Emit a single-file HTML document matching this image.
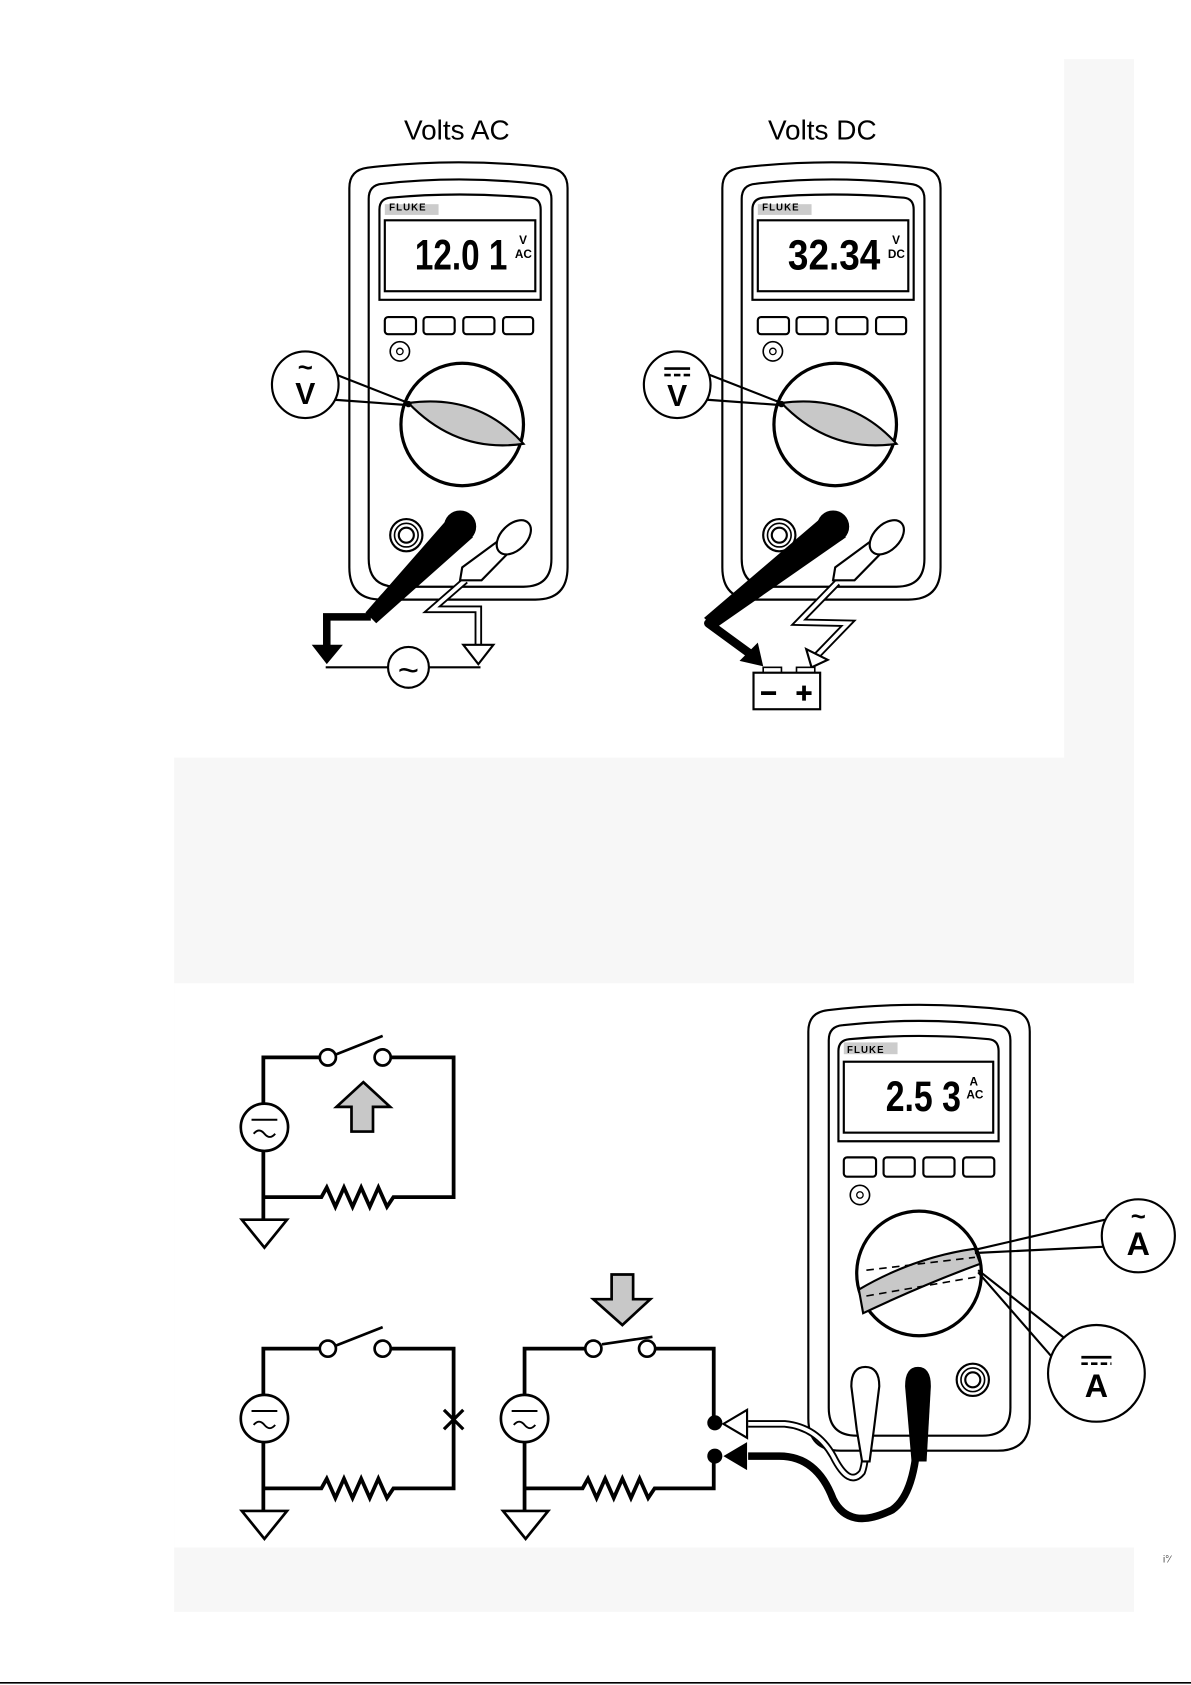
<!DOCTYPE html>
<html><head><meta charset="utf-8"><style>
html,body{margin:0;padding:0;background:#fff;}
svg{display:block;}
text{font-family:"Liberation Sans",sans-serif;}
.dig{font-family:"Liberation Sans Narrow","Liberation Sans",sans-serif;font-weight:bold;}
</style></head><body>
<svg width="1191" height="1685" viewBox="0 0 1108 1568" preserveAspectRatio="none" xmlns="http://www.w3.org/2000/svg">
<rect x="0" y="0" width="1108" height="1568" fill="#fff"/>
<rect x="162" y="55" width="893" height="1445" fill="#f7f7f7"/>
<rect x="0" y="0" width="990" height="705" fill="#fff"/>
<rect x="162" y="915" width="893" height="525" fill="#fff"/>
<line x1="0" y1="1566" x2="1108" y2="1566" stroke="#000" stroke-width="1.5"/>
<text x="1082" y="1454" font-size="9" fill="#444">i°⁄</text>

<defs>
<g id="meter">
 <path d="M325,175 Q325,158 342,156 Q427,146 511,156 Q528,158 528,175 L528,528 Q528,558 498,558 L355,558 Q325,558 325,528 Z" fill="#fff" stroke="#000" stroke-width="2"/>
 <path d="M343,185 Q343,172 356,171 Q427,163 499,171 Q513,172 513,185 L513,520 Q513,546 487,546 L369,546 Q343,546 343,520 Z" fill="none" stroke="#000" stroke-width="2"/>
 <path d="M353,195 Q353,185 363,184 Q427,178 494,184 Q503,185 503,195 L503,279 L353,279 Z" fill="none" stroke="#000" stroke-width="2"/>
 <rect x="358" y="205" width="140" height="66" fill="#fff" stroke="#000" stroke-width="2"/>
 <rect x="358" y="190" width="50" height="10" fill="#ccc"/>
 <rect x="358" y="295" width="29" height="16" rx="3" fill="none" stroke="#000" stroke-width="2"/>
 <rect x="394" y="295" width="29" height="16" rx="3" fill="none" stroke="#000" stroke-width="2"/>
 <rect x="431" y="295" width="29" height="16" rx="3" fill="none" stroke="#000" stroke-width="2"/>
 <rect x="468" y="295" width="28" height="16" rx="3" fill="none" stroke="#000" stroke-width="2"/>
 <circle cx="372" cy="327" r="9" fill="none" stroke="#000" stroke-width="1.5"/>
 <circle cx="372" cy="327" r="3" fill="none" stroke="#000" stroke-width="1.2"/>
 <circle cx="378" cy="498" r="15" fill="#fff" stroke="#000" stroke-width="2"/>
 <circle cx="378" cy="498" r="11" fill="none" stroke="#000" stroke-width="1.5"/>
 <circle cx="378" cy="498" r="7" fill="none" stroke="#000" stroke-width="2"/>
</g>
</defs>

<text x="425" y="130" font-size="26" text-anchor="middle">Volts AC</text>
<text x="765" y="130" font-size="26" text-anchor="middle">Volts DC</text>

<!-- Meter 1 -->
<use href="#meter"/>
<text x="362" y="196" font-size="9" font-weight="bold" letter-spacing="1">FLUKE</text>
<text class="dig" x="386" y="251" font-size="40" textLength="86" lengthAdjust="spacingAndGlyphs">12.0 1</text>
<text x="483" y="227" font-size="11" font-weight="bold">V</text>
<text x="479" y="240" font-size="11" font-weight="bold">AC</text>
<circle cx="430" cy="395" r="57" fill="#fff" stroke="#000" stroke-width="3"/>
<path d="M380,375 Q445,366 487,413 Q425,422 380,375 Z" fill="#c8c8c8" stroke="#000" stroke-width="2"/>
<path d="M380,375 L306,346 M380,377 L311,372" stroke="#000" stroke-width="2" fill="none"/>
<circle cx="284" cy="358" r="31" fill="#fff" stroke="#000" stroke-width="2"/>
<circle cx="380" cy="376" r="3" fill="#000"/>
<text x="284" y="376" font-size="28" font-weight="bold" text-anchor="middle">V</text>
<text x="284" y="350" font-size="24" font-weight="bold" text-anchor="middle">~</text>
<!-- probes meter1 -->
<polygon points="418,481 440,500 350,580 340,570" fill="#000"/>
<circle cx="428" cy="490" r="15" fill="#000"/>
<polyline points="345,574 304,574 304,602" fill="none" stroke="#000" stroke-width="7"/>
<polygon points="290,600 319,600 304,618" fill="#000"/>
<path d="M433,540 L402,567 L445,567 L445,602" fill="none" stroke="#000" stroke-width="7"/>
<path d="M433,540 L402,567 L445,567 L445,602" fill="none" stroke="#fff" stroke-width="3.5"/>
<path d="M487,486 L493,494 L448,540 L428,540 L430,528 Z" fill="#fff" stroke="#000" stroke-width="2"/>
<ellipse cx="478" cy="500" rx="12" ry="19" transform="rotate(45 478 500)" fill="#fff" stroke="#000" stroke-width="2"/>
<polygon points="431,600 459,600 445,618" fill="#fff" stroke="#000" stroke-width="2"/>
<line x1="303" y1="621" x2="447" y2="621" stroke="#000" stroke-width="2"/>
<circle cx="380" cy="621" r="19" fill="#fff" stroke="#000" stroke-width="2"/>
<text x="380" y="635" font-size="34" text-anchor="middle">~</text>

<!-- Meter 2 -->
<use href="#meter" transform="translate(347,0)"/>
<text x="709" y="196" font-size="9" font-weight="bold" letter-spacing="1">FLUKE</text>
<text class="dig" x="733" y="251" font-size="40" textLength="86" lengthAdjust="spacingAndGlyphs">32.34</text>
<text x="830" y="227" font-size="11" font-weight="bold">V</text>
<text x="826" y="240" font-size="11" font-weight="bold">DC</text>
<circle cx="777" cy="395" r="57" fill="#fff" stroke="#000" stroke-width="3"/>
<path d="M727,375 Q792,366 834,413 Q772,422 727,375 Z" fill="#c8c8c8" stroke="#000" stroke-width="2"/>
<path d="M727,375 L653,346 M727,377 L658,372" stroke="#000" stroke-width="2" fill="none"/>
<circle cx="630" cy="358" r="31" fill="#fff" stroke="#000" stroke-width="2"/>
<circle cx="727" cy="376" r="3" fill="#000"/>
<text x="630" y="378" font-size="28" font-weight="bold" text-anchor="middle">V</text>
<line x1="618" y1="343" x2="642" y2="343" stroke="#000" stroke-width="2.5"/>
<line x1="618" y1="349" x2="642" y2="349" stroke="#000" stroke-width="2.5" stroke-dasharray="6,3"/>
<polygon points="765,481 787,500 665,585 655,575" fill="#000"/>
<circle cx="775" cy="490" r="15" fill="#000"/>
<path d="M659,580 L700,610" stroke="#000" stroke-width="8" fill="none" stroke-linecap="round"/>
<polygon points="688,615 710,620 705,598" fill="#000"/>
<path d="M779,542 L743,579 L789,580 L760,610" fill="none" stroke="#000" stroke-width="7"/>
<path d="M779,542 L743,579 L789,580 L760,610" fill="none" stroke="#fff" stroke-width="3.5"/>
<path d="M834,486 L840,494 L795,540 L775,540 L777,528 Z" fill="#fff" stroke="#000" stroke-width="2"/>
<ellipse cx="825" cy="500" rx="12" ry="19" transform="rotate(45 825 500)" fill="#fff" stroke="#000" stroke-width="2"/>
<polygon points="750,604 770,614 755,621" fill="#fff" stroke="#000" stroke-width="2"/>
<rect x="710" y="621" width="17" height="6" fill="#fff" stroke="#000" stroke-width="1.5"/>
<rect x="741" y="621" width="17" height="6" fill="#fff" stroke="#000" stroke-width="1.5"/>
<rect x="701" y="626" width="62" height="34" fill="#fff" stroke="#000" stroke-width="2"/>
<line x1="708" y1="645" x2="722" y2="645" stroke="#000" stroke-width="3.5"/>
<line x1="741" y1="645" x2="755" y2="645" stroke="#000" stroke-width="3.5"/>
<line x1="748" y1="638" x2="748" y2="652" stroke="#000" stroke-width="3.5"/>

<!-- Bottom meter -->
<path d="M752,960 Q752,942 770,940 Q855,930 940,940 Q958,942 958,960 L958,1320 Q958,1350 928,1350 L782,1350 Q752,1350 752,1320 Z" fill="#fff" stroke="#000" stroke-width="2"/>
<path d="M771,968 Q771,955 784,954 Q855,946 927,954 Q940,955 940,968 L940,1310 Q940,1336 914,1336 L797,1336 Q771,1336 771,1310 Z" fill="none" stroke="#000" stroke-width="2"/>
<path d="M780,978 Q780,968 790,967 Q855,961 920,967 Q929,968 929,978 L929,1062 L780,1062 Z" fill="none" stroke="#000" stroke-width="2"/>
<rect x="785" y="988" width="139" height="66" fill="#fff" stroke="#000" stroke-width="2"/>
<rect x="785" y="970" width="50" height="11" fill="#ccc"/>
<text x="788" y="980" font-size="9" font-weight="bold" letter-spacing="1">FLUKE</text>
<text class="dig" x="824" y="1034" font-size="40" textLength="70" lengthAdjust="spacingAndGlyphs">2.5 3</text>
<text x="902" y="1010" font-size="11" font-weight="bold">A</text>
<text x="899" y="1022" font-size="11" font-weight="bold">AC</text>
<rect x="785" y="1077" width="30" height="18" rx="3" fill="none" stroke="#000" stroke-width="2"/>
<rect x="822" y="1077" width="29" height="18" rx="3" fill="none" stroke="#000" stroke-width="2"/>
<rect x="859" y="1077" width="29" height="18" rx="3" fill="none" stroke="#000" stroke-width="2"/>
<rect x="896" y="1077" width="29" height="18" rx="3" fill="none" stroke="#000" stroke-width="2"/>
<circle cx="800" cy="1112" r="9" fill="none" stroke="#000" stroke-width="1.5"/>
<circle cx="800" cy="1112" r="3" fill="none" stroke="#000" stroke-width="1.2"/>
<circle cx="855" cy="1185" r="58" fill="#fff" stroke="#000" stroke-width="3"/>
<path d="M799,1200 Q850,1170 907,1162 L912,1176 Q860,1195 803,1222 Z" fill="#c8c8c8" stroke="#000" stroke-width="2"/>
<line x1="806" y1="1182" x2="907" y2="1170" stroke="#000" stroke-width="1.5" stroke-dasharray="7,5"/>
<line x1="806" y1="1206" x2="910" y2="1188" stroke="#000" stroke-width="1.5" stroke-dasharray="7,5"/>
<path d="M907,1163 L1028,1135 M907,1166 L1030,1160" stroke="#000" stroke-width="2" fill="none"/>
<path d="M910,1182 L990,1245 M910,1184 L978,1262" stroke="#000" stroke-width="2" fill="none"/>
<circle cx="1059" cy="1150" r="34" fill="#fff" stroke="#000" stroke-width="2"/>
<text x="1059" y="1168" font-size="30" font-weight="bold" text-anchor="middle">A</text>
<text x="1059" y="1140" font-size="24" font-weight="bold" text-anchor="middle">~</text>
<circle cx="1020" cy="1278" r="45" fill="#fff" stroke="#000" stroke-width="2"/>
<text x="1020" y="1300" font-size="30" font-weight="bold" text-anchor="middle">A</text>
<line x1="1006" y1="1263" x2="1034" y2="1263" stroke="#000" stroke-width="2.5"/>
<line x1="1006" y1="1269" x2="1034" y2="1269" stroke="#000" stroke-width="2.5" stroke-dasharray="6,3"/>
<circle cx="905" cy="1284" r="15" fill="#fff" stroke="#000" stroke-width="2"/>
<circle cx="905" cy="1284" r="11" fill="none" stroke="#000" stroke-width="1.5"/>
<circle cx="905" cy="1284" r="7" fill="none" stroke="#000" stroke-width="2"/>
<!-- leads -->
<path d="M696,1355 L725,1355 Q760,1355 775,1395 Q790,1425 830,1405 Q852,1390 854,1330" fill="none" stroke="#000" stroke-width="7"/>
<path d="M696,1325 L730,1325 Q760,1328 775,1355 Q790,1385 802,1370 Q806,1360 806,1330" fill="none" stroke="#000" stroke-width="7"/>
<path d="M696,1325 L730,1325 Q760,1328 775,1355 Q790,1385 802,1370 Q806,1360 806,1330" fill="none" stroke="#fff" stroke-width="3.5"/>
<path d="M842,1290 Q842,1272 854,1272 Q866,1272 866,1290 L862,1360 L848,1360 Z" fill="#000"/>
<path d="M792,1290 Q792,1272 805,1272 Q818,1272 818,1290 L813,1330 L809,1360 L802,1360 L797,1330 Z" fill="#fff" stroke="#000" stroke-width="2"/>
<polygon points="673,1325 695,1312 695,1338" fill="#fff" stroke="#000" stroke-width="2"/>
<polygon points="673,1355 695,1342 695,1368" fill="#000"/>

<!-- Circuits -->
<g fill="none" stroke="#000" stroke-width="3.5">
 <path d="M298,984 L245,984 L245,1027 M245,1071 L245,1135 M245,1114 L299,1114 L304,1105 L312,1123 L320,1105 L328,1123 L336,1105 L344,1123 L352,1105 L360,1123 L366,1114 L422,1114 L422,984 L363,984"/>
 <path d="M298,1255 L245,1255 L245,1298 M245,1342 L245,1406 M245,1385 L299,1385 L304,1376 L312,1394 L320,1376 L328,1394 L336,1376 L344,1394 L352,1376 L360,1394 L366,1385 L422,1385 L422,1255 L363,1255"/>
 <path d="M545,1255 L488,1255 L488,1298 M488,1342 L488,1406 M488,1385 L542,1385 L547,1376 L555,1394 L563,1376 L571,1394 L579,1376 L587,1394 L595,1376 L603,1394 L609,1385 L664,1385 L664,1355 M664,1325 L664,1255 L609,1255"/>
</g>
<g stroke="#000" stroke-width="2.5" fill="#fff">
 <circle cx="246" cy="1049" r="22"/>
 <circle cx="246" cy="1320" r="22"/>
 <circle cx="488" cy="1320" r="22"/>
 <polygon points="225,1135 267,1135 246,1161"/>
 <polygon points="225,1406 267,1406 246,1432"/>
 <polygon points="468,1406 510,1406 489,1432"/>
 <line x1="313" y1="981" x2="356" y2="964"/>
 <circle cx="305" cy="984" r="7.5"/>
 <circle cx="356" cy="984" r="7.5"/>
 <line x1="313" y1="1252" x2="356" y2="1235"/>
 <circle cx="305" cy="1255" r="7.5"/>
 <circle cx="356" cy="1255" r="7.5"/>
 <line x1="560" y1="1251" x2="607" y2="1244"/>
 <circle cx="552" cy="1255" r="7.5"/>
 <circle cx="602" cy="1255" r="7.5"/>
 <polygon points="338,1007 363,1030 347,1030 347,1053 327,1053 327,1030 313,1030" fill="#c8c8c8"/>
 <polygon points="569,1186 589,1186 589,1209 605,1209 579,1233 552,1209 569,1209" fill="#c8c8c8"/>
</g>
<g fill="none" stroke="#000" stroke-width="1.8">
 <path d="M234,1042 L258,1042 M236,1055 Q241,1049 246,1055 Q251,1061 256,1055"/>
 <path d="M234,1313 L258,1313 M236,1326 Q241,1320 246,1326 Q251,1332 256,1326"/>
 <path d="M476,1313 L500,1313 M478,1326 Q483,1320 488,1326 Q493,1332 498,1326"/>
</g>
<path d="M413,1312 L431,1330 M431,1312 L413,1330" stroke="#000" stroke-width="3"/>
<circle cx="665" cy="1324" r="7" fill="#000"/>
<circle cx="665" cy="1355" r="7" fill="#000"/>
</svg>
</body></html>
